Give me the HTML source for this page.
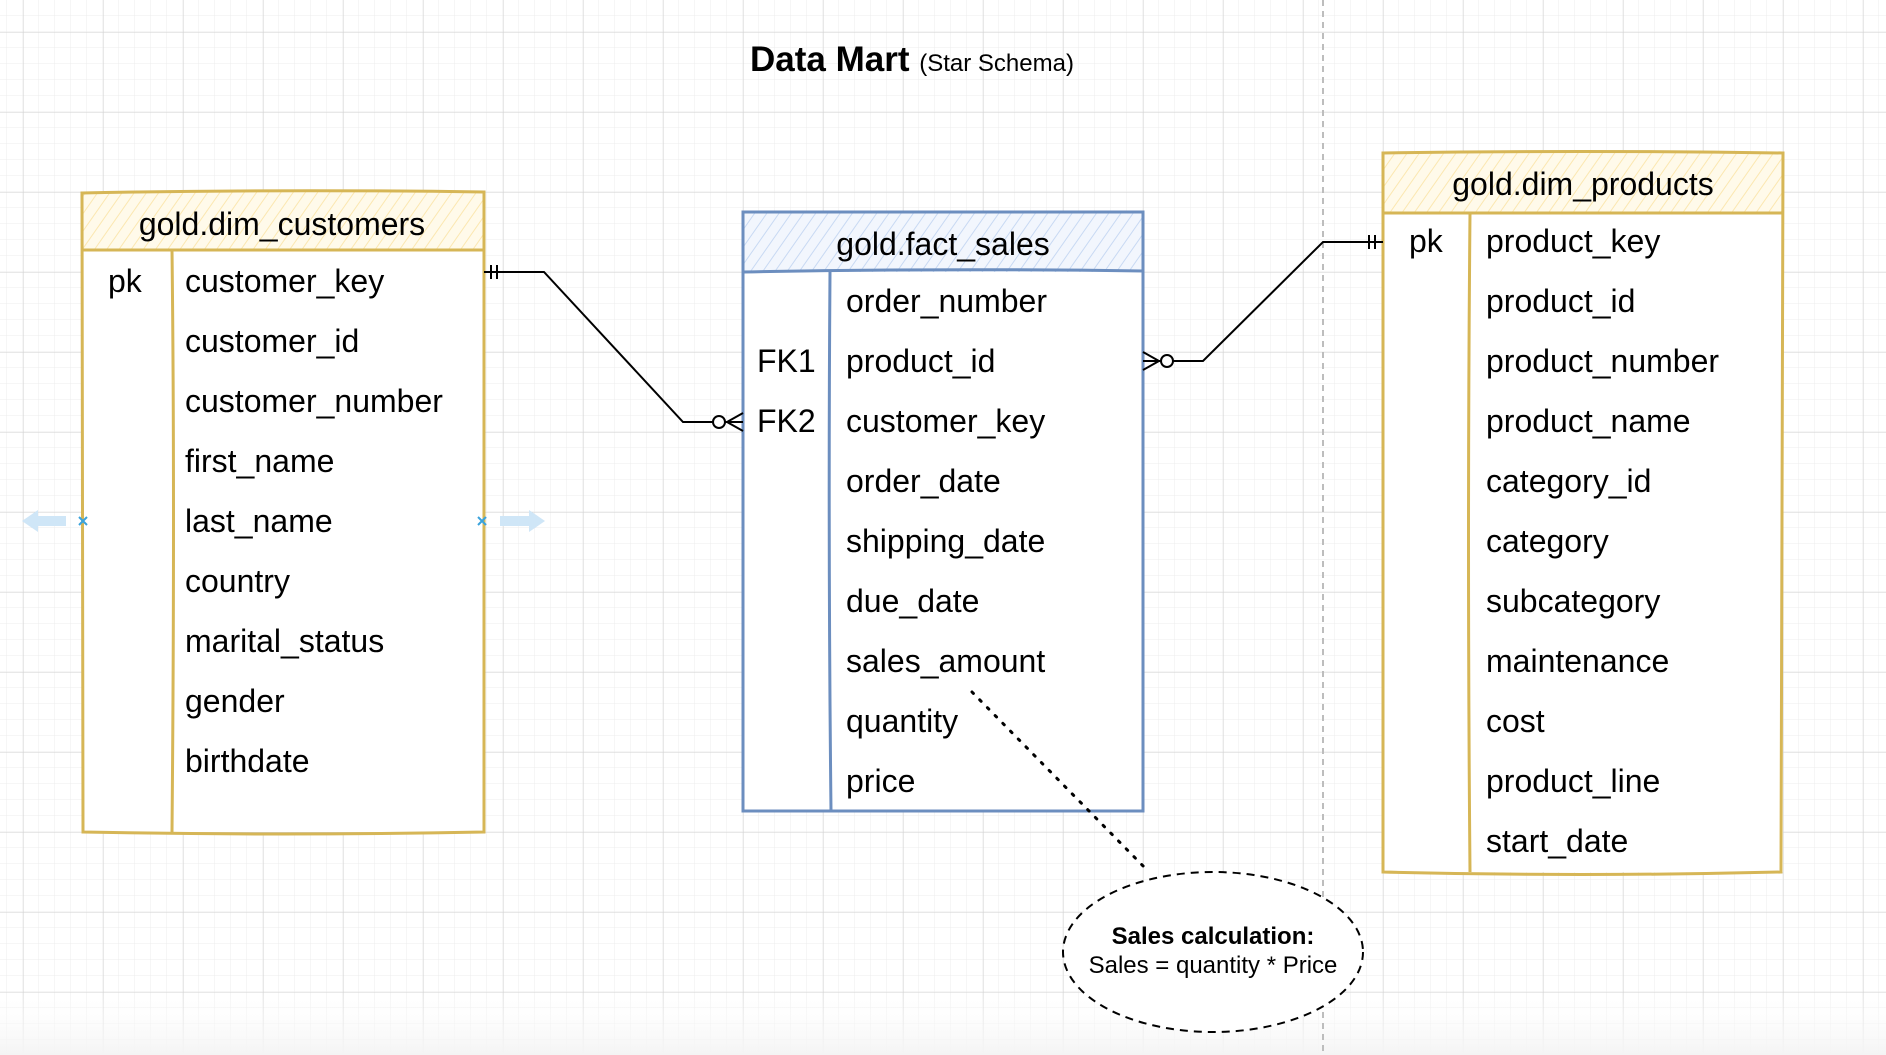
<!DOCTYPE html>
<html><head><meta charset="utf-8"><style>
html,body{margin:0;padding:0;background:#fff}
svg{display:block}
text{font-family:"Liberation Sans",Arial,sans-serif;fill:#000}
</style></head><body>
<svg width="1886" height="1055" viewBox="0 0 1886 1055" xmlns="http://www.w3.org/2000/svg">
<defs>
<pattern id="minor" width="16" height="16" patternUnits="userSpaceOnUse" x="7" y="0">
<path d="M16 0V16M0 16H16" stroke="#ececec" stroke-width="1" fill="none"/>
</pattern>
<pattern id="major" width="80" height="80" patternUnits="userSpaceOnUse" x="23" y="32">
<path d="M0 0V80M0 0H80" stroke="#d2d2d2" stroke-width="1" fill="none"/>
</pattern>
<pattern id="hy" width="10" height="10" patternUnits="userSpaceOnUse" patternTransform="rotate(35)">
<rect width="10" height="10" fill="#fffaea"/>
<path d="M0 0V10" stroke="#fbe7b0" stroke-width="2"/>
</pattern>
<pattern id="hb" width="10" height="10" patternUnits="userSpaceOnUse" patternTransform="rotate(35)">
<rect width="10" height="10" fill="#f2f6fd"/>
<path d="M0 0V10" stroke="#c8d9f3" stroke-width="2"/>
</pattern>
<linearGradient id="fade" x1="0" y1="0" x2="0" y2="1">
<stop offset="0" stop-color="#fff" stop-opacity="0"/>
<stop offset="1" stop-color="#f4f4f4" stop-opacity="1"/>
</linearGradient>
</defs>
<rect width="1886" height="1055" fill="#fff"/>
<rect width="1886" height="1055" fill="url(#minor)"/>
<rect width="1886" height="1055" fill="url(#major)"/>
<rect x="0" y="990" width="1886" height="65" fill="url(#fade)"/>

<line x1="1323" y1="0" x2="1323" y2="1055" stroke="#bdbdbd" stroke-width="2" stroke-dasharray="6 5"/>

<text x="750" y="71" font-size="35" font-weight="bold">Data Mart <tspan font-size="24" font-weight="normal">(Star Schema)</tspan></text>

<!-- customers -->
<rect x="82" y="192" width="402" height="640" fill="#fff"/>
<rect x="82" y="192" width="402" height="58" fill="url(#hy)"/>
<g stroke="#d6b656" stroke-width="3" fill="none">
<path d="M82 193 Q280 189 484 192 L484 832 Q280 836 83 832 Z"/>
<path d="M82 250 H484"/>
<path d="M172 250 Q175 500 172 832"/>
</g>
<text x="282" y="235" font-size="32" text-anchor="middle">gold.dim_customers</text>
<g font-size="32">
<text x="108" y="292">pk</text>
<text x="185" y="292">customer_key</text>
<text x="185" y="352">customer_id</text>
<text x="185" y="412">customer_number</text>
<text x="185" y="472">first_name</text>
<text x="185" y="532">last_name</text>
<text x="185" y="592">country</text>
<text x="185" y="652">marital_status</text>
<text x="185" y="712">gender</text>
<text x="185" y="772">birthdate</text>
</g>
<g fill="#cfe6f7">
<path d="M22 521 L38 510 V516 H66 V526 H38 V532 Z"/>
<path d="M545 521 L529 510 V516 H500 V526 H529 V532 Z"/>
</g>
<g stroke="#3ba3dc" stroke-width="2">
<path d="M79 517 l8 8 M87 517 l-8 8"/>
<path d="M478 517 l8 8 M486 517 l-8 8"/>
</g>

<!-- fact -->
<rect x="743" y="212" width="400" height="599" fill="#fff"/>
<rect x="743" y="212" width="400" height="60" fill="url(#hb)"/>
<g stroke="#6c8ebf" stroke-width="3" fill="none">
<path d="M743 212 H1143 L1143 811 H743 Z"/>
<path d="M743 272 Q940 268 1143 271"/>
<path d="M830 272 Q828 540 831 811"/>
</g>
<text x="943" y="255" font-size="32" text-anchor="middle">gold.fact_sales</text>
<g font-size="32">
<text x="846" y="312">order_number</text>
<text x="757" y="372">FK1</text><text x="846" y="372">product_id</text>
<text x="757" y="432">FK2</text><text x="846" y="432">customer_key</text>
<text x="846" y="492">order_date</text>
<text x="846" y="552">shipping_date</text>
<text x="846" y="612">due_date</text>
<text x="846" y="672">sales_amount</text>
<text x="846" y="732">quantity</text>
<text x="846" y="792">price</text>
</g>

<!-- products -->
<rect x="1383" y="153" width="400" height="719" fill="#fff"/>
<rect x="1383" y="153" width="400" height="60" fill="url(#hy)"/>
<g stroke="#d6b656" stroke-width="3" fill="none">
<path d="M1383 153 Q1580 150 1783 153 L1781 872 Q1580 877 1383 872 Z"/>
<path d="M1383 213 H1783"/>
<path d="M1470 213 Q1467 540 1470 872"/>
</g>
<text x="1583" y="195" font-size="32" text-anchor="middle">gold.dim_products</text>
<g font-size="32">
<text x="1409" y="252">pk</text>
<text x="1486" y="252">product_key</text>
<text x="1486" y="312">product_id</text>
<text x="1486" y="372">product_number</text>
<text x="1486" y="432">product_name</text>
<text x="1486" y="492">category_id</text>
<text x="1486" y="552">category</text>
<text x="1486" y="612">subcategory</text>
<text x="1486" y="672">maintenance</text>
<text x="1486" y="732">cost</text>
<text x="1486" y="792">product_line</text>
<text x="1486" y="852">start_date</text>
</g>

<!-- connectors -->
<g stroke="#000" stroke-width="2" fill="none">
<path d="M484 272 H544 L683 422 H743"/>
<path d="M491 265 V279 M497 265 V279"/>
<circle cx="719" cy="422" r="6" fill="#fff"/>
<path d="M743 413 L727 422 L743 431"/>
<path d="M1143 361 H1203 L1323 242 H1383"/>
<path d="M1369 235 V249 M1375 235 V249"/>
<circle cx="1167" cy="361" r="6" fill="#fff"/>
<path d="M1143 352 L1159 361 L1143 370"/>
<path d="M972 692 L1149 872" stroke-dasharray="2 9" stroke-width="3" stroke-linecap="round"/>
</g>

<ellipse cx="1213" cy="952" rx="150" ry="80" fill="#fff" stroke="#000" stroke-width="2" stroke-dasharray="8 6"/>
<text x="1213" y="944" font-size="24" font-weight="bold" text-anchor="middle">Sales calculation:</text>
<text x="1213" y="973" font-size="24" text-anchor="middle">Sales = quantity * Price</text>
</svg>
</body></html>
